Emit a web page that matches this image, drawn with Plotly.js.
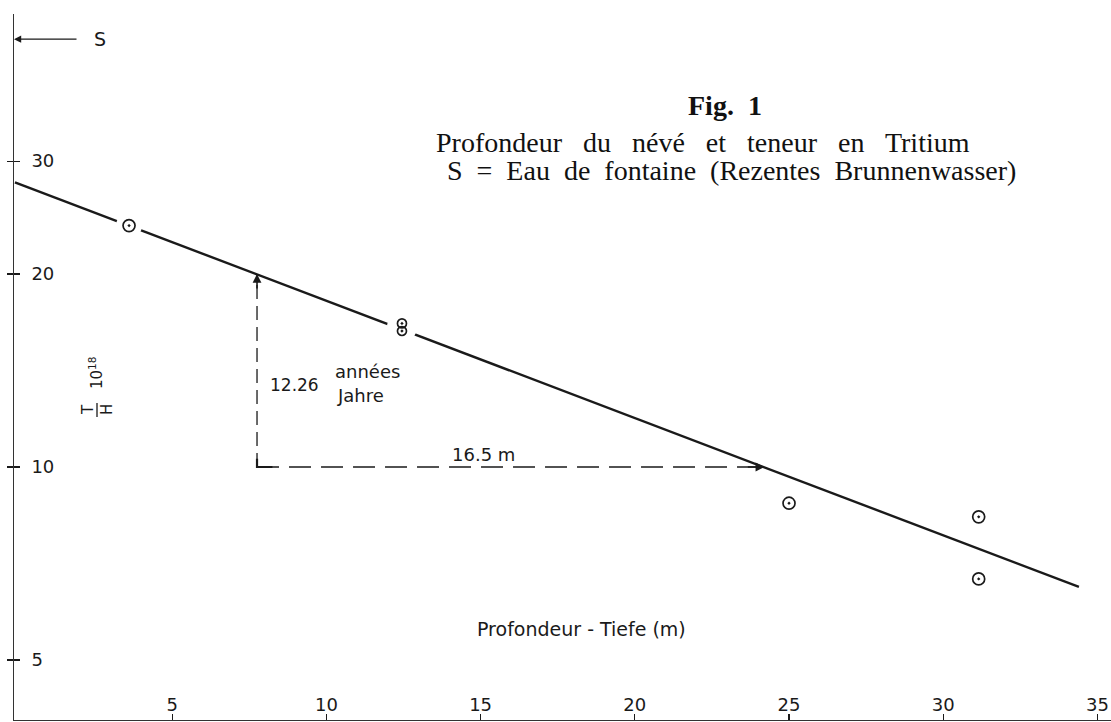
<!DOCTYPE html>
<html>
<head>
<meta charset="utf-8">
<script src="https://cdn.plot.ly/plotly-3.0.1.min.js"></script>
<style>html,body{margin:0;padding:0;background:#fff;}#chart{width:1111px;height:722px;}</style>
</head>
<body>
<div id="chart"></div>
<script>
// ---- data ----
const sampleDepth = [3.6, 25.0, 31.15, 31.15];          // m
const sampleT     = [23.8, 8.78, 8.36, 6.69];           // T/H * 10^18
const pairDepth   = [12.45, 12.45];                     // double sample ("8")
const pairT       = [16.75, 16.3];
const fitDepth    = [-0.1, 34.4];                       // regression line
const fitT        = [27.8, 6.5];
const refDepth    = 7.75;   // start of half-life construction
const refT        = 20;     // T at refDepth
const halfT       = 10;     // half of refT
const halfDepth   = 24.2;   // depth where line reaches halfT (7.75 + 16.5)
const sLevel      = 46.5;   // S = recent well water
const xTicks      = [5, 10, 15, 20, 25, 30, 35];
const yTicks      = [5, 10, 20, 30];

const XR = [-0.13, 35.44];
const YR = [0.6053, 1.7067];
const L = 14, T = 14, W = 1111, H = 722, PW = 1097, PH = 706;
const px = v => (v - L) / PW;
const py = v => (T + PH - v) / PH;

const sans = "DejaVu Sans, Verdana, sans-serif";
const serif = "Liberation Serif, Times New Roman, serif";
const ink = "#1a1a1a";
const sp = "\u00A0";

const traces = [
  { x: fitDepth, y: fitT, mode: "lines", line: {color: ink, width: 2.4}, hoverinfo: "skip" },
  // white gaps where the line passes the samples
  { x: [sampleDepth[0]], y: [sampleT[0]], mode: "markers", opacity: 1,
    marker: {symbol: "circle", size: 26, color: "#ffffff", opacity: 1, line: {width: 0, color: "#ffffff"}}, hoverinfo: "skip" },
  { x: [pairDepth[0]], y: [Math.sqrt(pairT[0] * pairT[1])], mode: "markers", opacity: 1,
    marker: {symbol: "circle", size: 30, color: "#ffffff", opacity: 1, line: {width: 0, color: "#ffffff"}}, hoverinfo: "skip" },
  { x: [refDepth, refDepth], y: [halfT, refT], mode: "lines", line: {color: ink, width: 1.3, dash: "14px,7px"}, hoverinfo: "skip" },
  { x: [refDepth, refDepth, refDepth + 0.5], y: [halfT * 1.03, halfT, halfT], mode: "lines",
    line: {color: ink, width: 2.2}, hoverinfo: "skip" },
  { x: sampleDepth, y: sampleT, mode: "markers",
    marker: {symbol: "circle-open-dot", size: 12, color: ink, line: {width: 1.7, color: ink}}, hoverinfo: "skip" },
  { x: pairDepth, y: pairT, mode: "markers",
    marker: {symbol: "circle-open-dot", size: 9, color: ink, line: {width: 1.7, color: ink}}, hoverinfo: "skip" },
  // horizontal dashed line, drawn on the overlay axis (only to make the crossing ticks appear)
  { x: [refDepth, halfDepth], y: [halfT, halfT], mode: "lines", yaxis: "y2",
    line: {color: ink, width: 1.3, dash: "22px,10px"}, hoverinfo: "skip" }
];

function txt(x, y, text, size, extra) {
  return Object.assign({ x: px(x), y: py(y), xref: "paper", yref: "paper", text: text, showarrow: false,
    xanchor: "center", yanchor: "middle", font: {family: sans, size: size, color: ink} }, extra || {});
}

const annotations = [
  // S arrow
  { x: XR[0], y: Math.log10(sLevel), xref: "x", yref: "y", text: "", showarrow: true, ax: 64, ay: 0,
    arrowhead: 2, arrowsize: 1.2, arrowwidth: 1.2, arrowcolor: ink },
  txt(92, 39, "S", 19, {xanchor: "left"}),
  // half-life arrows
  { x: refDepth, y: Math.log10(refT), xref: "x", yref: "y", text: "", showarrow: true, ax: 0, ay: 16,
    arrowhead: 2, arrowsize: 1.1, arrowwidth: 1.6, arrowcolor: ink },
  { x: halfDepth, y: Math.log10(halfT), xref: "x", yref: "y", text: "", showarrow: true, ax: -18, ay: 0,
    arrowhead: 2, arrowsize: 1.1, arrowwidth: 1.6, arrowcolor: ink },
  txt(268, 385, "12.26", 17, {xanchor: "left"}),
  txt(333, 372, "années", 18, {xanchor: "left"}),
  txt(335, 395, "Jahre", 18, {xanchor: "left"}),
  txt(483, 454, "16.5 m", 18),
  txt(581, 629, "Profondeur - Tiefe (m)", 19),
  // y label T/H 10^18, rotated
  txt(88, 410, "T", 15, {textangle: -90}),
  txt(107, 410, "H", 15, {textangle: -90}),
  txt(96, 373, "10<sup>18</sup>", 15, {textangle: -90}),
  // title block
  txt(725, 105, "<b>Fig." + sp + " 1</b>", 28, {font: {family: serif, size: 28, color: "#111"}}),
  txt(703, 143, ["Profondeur", "du", "névé", "et", "teneur", "en", "Tritium"].join(sp + sp + " "), 28,
    {font: {family: serif, size: 28, color: "#111"}}),
  txt(732, 170, ["S", "=", "Eau", "de", "fontaine", "(Rezentes", "Brunnenwasser)"].join(sp + " "), 28,
    {font: {family: serif, size: 28, color: "#111"}})
];

const layout = {
  width: W, height: H,
  margin: {l: L, r: W - L - PW, t: T, b: H - T - PH},
  paper_bgcolor: "#fff", plot_bgcolor: "#fff",
  showlegend: false,
  xaxis: {range: XR, tickvals: xTicks, ticktext: xTicks.map(String), ticks: "inside", ticklen: 6, tickwidth: 1.3,
    tickcolor: ink, showline: true, linecolor: "#333", linewidth: 1.3, showgrid: false, zeroline: false,
    ticklabelposition: "inside", tickfont: {family: sans, size: 18, color: ink}},
  yaxis: {type: "log", range: YR, tickvals: yTicks, ticktext: yTicks.map(String), ticks: "inside", ticklen: 6,
    tickwidth: 1.3, tickcolor: ink, showline: true, linecolor: "#333", linewidth: 1.3, showgrid: false,
    zeroline: false, ticklabelposition: "inside", ticklabelstandoff: 12, tickfont: {family: sans, size: 18, color: ink}},
  yaxis2: {type: "log", range: YR, overlaying: "y", side: "left", anchor: "x", tickvals: yTicks, ticks: "outside",
    ticklen: 6, tickwidth: 1.3, tickcolor: ink, showticklabels: false, showline: false, showgrid: false, zeroline: false},
  annotations: annotations,
  shapes: [
    { type: "line", xref: "paper", yref: "paper", x0: px(97), x1: px(97), y0: py(403), y1: py(417),
      line: {color: ink, width: 1.3} }
  ]
};

Plotly.newPlot("chart", traces, layout, {staticPlot: true, displayModeBar: false});
</script>
</body>
</html>
